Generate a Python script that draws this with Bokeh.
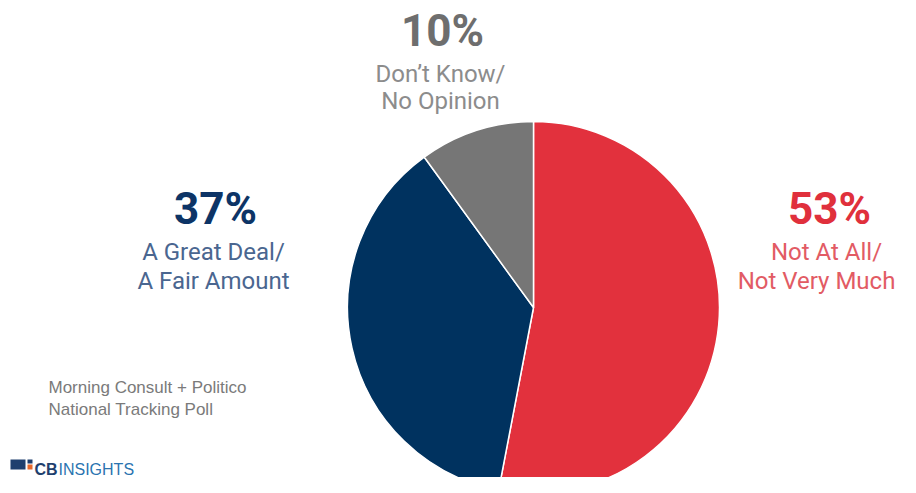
import math
from bokeh.plotting import figure
from bokeh.models import ColumnDataSource, Range1d
from bokeh.core.properties import value
from bokeh.embed import file_html
from bokeh.resources import INLINE

# ---- data ----
categories = ["Not At All/ Not Very Much", "A Great Deal/ A Fair Amount", "Don't Know/ No Opinion"]
line1 = ["Not At All/", "A Great Deal/", "Don’t Know/"]
line2 = ["Not Very Much", "A Fair Amount", "No Opinion"]
shares = [53, 37, 10]
pct_labels = ["53%", "37%", "10%"]
slice_colors = ["#e2313d", "#00325f", "#767676"]
pct_colors = ["#e0303c", "#0d3466", "#6e6e6e"]
label_colors = ["#e25b64", "#4a6690", "#8c8c8c"]
source_lines = ["Morning Consult + Politico", "National Tracking Poll"]

W, H = 900, 477
p = figure(width=W, height=H, output_backend="svg", toolbar_location=None,
           x_range=Range1d(0, W), y_range=Range1d(0, H), min_border=0,
           outline_line_color=None, background_fill_color="white")
p.axis.visible = False
p.xgrid.visible = False
p.ygrid.visible = False

# pie (clockwise from 12 o'clock)
cx, cy, r = 533, 170, 186
total = sum(shares)
starts, ends = [], []
acc = 0.0
for s in shares:
    a0 = math.pi / 2 - 2 * math.pi * acc / total
    acc += s
    a1 = math.pi / 2 - 2 * math.pi * acc / total
    starts.append(a1)
    ends.append(a0)
src = ColumnDataSource(dict(start=starts, end=ends, color=slice_colors,
                            x=[cx] * 3, y=[cy] * 3))
p.wedge(x="x", y="y", radius=r, start_angle="start", end_angle="end",
        fill_color="color", line_color="white", line_width=1.5, source=src)

# labels: percentage + two text lines for each category
pct_pos = [(829, 269), (215, 269), (442, 447)]
l1_pos = [(826, 226), (213, 226), (440, 404)]
l2_pos = [(816, 197), (213, 197), (440, 377)]
p.text(x=[q[0] for q in pct_pos], y=[q[1] for q in pct_pos], text=pct_labels,
       text_color=pct_colors, text_font=value("Roboto"), text_font_style="bold",
       text_font_size="44px", text_align="center", text_baseline="middle")
p.text(x=[q[0] for q in l1_pos], y=[q[1] for q in l1_pos], text=line1,
       text_color=label_colors, text_font=value("Roboto"),
       text_font_size="24px", text_align="center", text_baseline="middle")
p.text(x=[q[0] for q in l2_pos], y=[q[1] for q in l2_pos], text=line2,
       text_color=label_colors, text_font=value("Roboto"),
       text_font_size="24px", text_align="center", text_baseline="middle")

# source note
p.text(x=[48, 48], y=[90, 68], text=source_lines, text_color="#7a7a7a",
       text_font=value("Liberation Sans"), text_font_size="17px",
       text_align="left", text_baseline="middle")

# CB Insights logo
p.quad(left=[10, 27, 27], right=[25, 32, 32], bottom=[8, 14, 8], top=[18, 18, 13],
       fill_color=["#1f3f6e", "#1f3f6e", "#e8692c"], line_color=None)
p.text(x=[34], y=[8], text=["CB"], text_color="#1f3f6e",
       text_font=value("Liberation Sans"), text_font_style="bold",
       text_font_size="16px", text_align="left", text_baseline="alphabetic")
p.text(x=[58], y=[8], text=["INSIGHTS"], text_color="#2a74b0",
       text_font=value("Liberation Sans"),
       text_font_size="16px", text_align="left", text_baseline="alphabetic")

open("out.html", "w").write(file_html(p, INLINE))
